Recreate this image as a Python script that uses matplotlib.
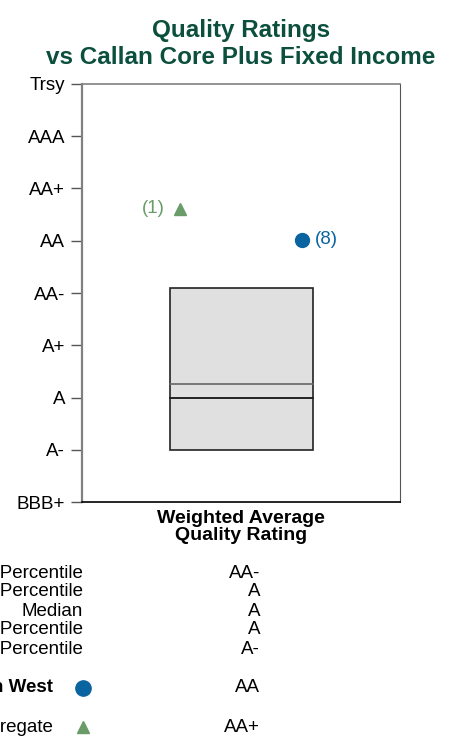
import matplotlib
matplotlib.use('Agg')
import matplotlib.pyplot as plt
from matplotlib.patches import Rectangle

plt.rcParams['font.family'] = ['Liberation Sans', 'DejaVu Sans']

# Rating scale, bottom to top
ratings = ['BBB+', 'A-', 'A', 'A+', 'AA-', 'AA', 'AA+', 'AAA', 'Trsy']

# Peer group bar (numeric rating positions)
pct_10 = 4.10
pct_25 = 2.26
median = 2.00
pct_90 = 1.00

# Portfolio and index
fund_name = 'Wellington West'
fund_value = 5.02
fund_rank = '(8)'
index_name = 'Bloomberg Aggregate'
index_value = 5.61
index_rank = '(1)'

table_labels = ['10th Percentile', '25th Percentile', 'Median',
                '75th Percentile', '90th Percentile']
table_values = ['AA-', 'A', 'A', 'A', 'A-']
fund_label = 'AA'
index_label = 'AA+'

green_title = '#0b4f3c'
blue = '#0a64a0'
green = '#6a9c6a'

fig = plt.figure(figsize=(4.49, 7.40), dpi=100)
ax = fig.add_axes([0.1826, 0.3216, 0.7082, 0.5649])

ax.set_xlim(0, 1)
ax.set_ylim(0, len(ratings) - 1)
ax.set_yticks(range(len(ratings)))
ax.set_yticklabels(ratings, fontsize=13.5)
ax.set_xticks([])
ax.tick_params(axis='y', length=8, width=1, color='#555555', pad=4)

ax.spines['left'].set_color('#808080')
ax.spines['left'].set_linewidth(1.6)
ax.spines['top'].set_color('#808080')
ax.spines['top'].set_linewidth(1.2)
ax.spines['right'].set_color('#555555')
ax.spines['bottom'].set_color('black')
ax.spines['bottom'].set_linewidth(1.2)

# Floating bar
ax.add_patch(Rectangle((0.277, pct_90), 0.449, pct_10 - pct_90,
                       facecolor='#e0e0e0', edgecolor='#222222', lw=1.2))
ax.plot([0.277, 0.726], [pct_25, pct_25], color='#666666', lw=1.2)
ax.plot([0.277, 0.726], [median, median], color='#222222', lw=1.4)

# Index and fund markers
ax.plot(0.308, index_value, marker='^', color=green, markersize=8, ls='none')
ax.annotate(index_rank, (0.308, index_value), xytext=(-11, 0),
            textcoords='offset points', ha='right', va='center',
            color=green, fontsize=13.5)
ax.plot(0.692, fund_value, marker='o', color=blue, markersize=10, ls='none')
ax.annotate(fund_rank, (0.692, fund_value), xytext=(9, 0),
            textcoords='offset points', ha='left', va='center',
            color=blue, fontsize=13.5)

fig.text(0.537, 1 - 44 / 740, 'Quality Ratings\nvs Callan Core Plus Fixed Income',
         ha='center', va='center', fontsize=17.5, fontweight='bold',
         color=green_title, linespacing=1.22)
fig.text(0.537, 1 - 527 / 740, 'Weighted Average\nQuality Rating', ha='center',
         va='center', fontsize=14, fontweight='bold', linespacing=0.98)

# Table below the chart
rows_y = [573, 592, 611, 630, 649]
for lab, val, y in zip(table_labels, table_values, rows_y):
    fig.text(83 / 449, 1 - y / 740, lab, ha='right', va='center', fontsize=13.5)
    fig.text(260 / 449, 1 - y / 740, val, ha='right', va='center', fontsize=13.5)

fig.text(53 / 449, 1 - 688 / 740, fund_name, ha='right', va='center',
         fontsize=13.5, fontweight='bold')
fig.text(260 / 449, 1 - 688 / 740, fund_label, ha='right', va='center',
         fontsize=13.5)
fig.text(53 / 449, 1 - 727 / 740, index_name, ha='right', va='center',
         fontsize=13.5)
fig.text(260 / 449, 1 - 727 / 740, index_label, ha='right', va='center',
         fontsize=13.5)
fig.lines.append(plt.Line2D([83 / 449], [1 - 688 / 740], marker='o',
                            color=blue, markersize=11,
                            transform=fig.transFigure))
fig.lines.append(plt.Line2D([83 / 449], [1 - 727 / 740], marker='^',
                            color=green, markersize=9,
                            transform=fig.transFigure))

fig.savefig('out.png', dpi=100)
